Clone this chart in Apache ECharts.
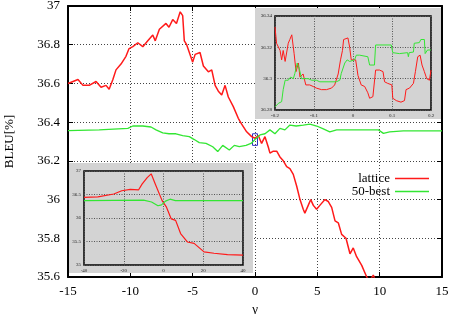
<!DOCTYPE html>
<html>
<head>
<meta charset="utf-8">
<script src="https://cdn.jsdelivr.net/npm/echarts@6/dist/echarts.min.js"></script>
<style>
  html, body { margin: 0; padding: 0; background: #fff; }
  #chart { width: 454px; height: 314px; }
</style>
</head>
<body>
<div id="chart"></div>
<script>
// main plot: gamma vs BLEU
const mainGammaTicks = [-15, -10, -5, 0, 5, 10, 15]
const mainBleuTicks = [35.6, 35.8, 36, 36.2, 36.4, 36.6, 36.8, 37]

const latticeGamma = [-15, -14.6, -14.2, -13.8, -13.3, -12.75, -12.35, -11.95, -11.7, -11.4, -11.15, -10.75,
  -10.35, -10.1, -9.8, -9.4, -9.0, -8.6, -8.2, -8.0, -7.67, -7.14, -6.9, -6.6, -6.3, -6.0, -5.8, -5.67,
  -5.48, -5.4, -5.0, -4.8, -4.68, -4.41, -4.14, -3.74, -3.47, -3.2, -2.94, -2.67, -2.4, -2.14, -1.74,
  -1.34, -1.07, -0.67, -0.27, 0, 0.27, 0.53, 0.8, 1.07, 1.2, 1.47, 1.74, 2.0, 2.27, 2.54, 2.8, 3.07,
  3.34, 3.61, 3.87, 4.0, 4.27, 4.47, 4.68, 4.94, 5.2, 5.61, 5.88, 6.15, 6.42, 6.68, 6.95, 7.3, 7.62,
  7.88, 8.15, 8.56, 8.96, 9.2, 9.49, 9.7, 10.0]
const latticeBleu = [36.60, 36.61, 36.62, 36.59, 36.59, 36.61, 36.58, 36.59, 36.57, 36.62, 36.67, 36.70,
  36.74, 36.78, 36.79, 36.81, 36.79, 36.82, 36.85, 36.82, 36.88, 36.91, 36.89, 36.93, 36.91, 36.97, 36.95, 36.82,
  36.80, 36.81, 36.71, 36.75, 36.76, 36.76, 36.69, 36.66, 36.67, 36.59, 36.56, 36.54, 36.59, 36.53, 36.48,
  36.42, 36.39, 36.35, 36.325, 36.317, 36.33, 36.29, 36.325, 36.27, 36.24, 36.25, 36.25, 36.22, 36.20, 36.17, 36.16, 36.13,
  36.07, 36.0, 35.95, 35.93, 35.97, 36.0, 35.97, 35.95, 35.97, 36.0, 35.99, 35.96, 35.89, 35.88, 35.82, 35.80, 35.72,
  35.75, 35.705, 35.66, 35.60, 35.58, 35.61, 35.57, 35.52]

const nbestGamma = [-15, -12.5, -10.2, -9.8, -9.0, -8.34, -7.94, -7.4, -6.9, -6.34, -5.8, -5.27, -4.87, -4.47,
  -3.93, -3.39, -2.99, -2.59, -2.06, -1.66, -1.26, -0.72, -0.32, 0, 0.4, 0.8, 1.2, 1.6, 2.0, 2.4, 2.8, 3.3,
  3.87, 4.4, 4.95, 5.48, 6.0, 6.55, 7.6, 8.7, 9.9, 10.3, 10.8, 11.9, 15]
const nbestBleu = [36.356, 36.36, 36.368, 36.38, 36.38, 36.375, 36.36, 36.345, 36.34, 36.34, 36.33, 36.325, 36.31, 36.294,
  36.29, 36.273, 36.248, 36.28, 36.256, 36.28, 36.273, 36.28, 36.29, 36.31, 36.334, 36.34, 36.36, 36.34, 36.368, 36.36, 36.385, 36.38,
  36.385, 36.39, 36.38, 36.365, 36.35, 36.36, 36.36, 36.36, 36.36, 36.342, 36.35, 36.355, 36.355]

// zoomed inset (top right)
const zoomGammaTicks = [-0.2, -0.1, 0, 0.1, 0.2]
const zoomBleuTicks = [36.28, 36.3, 36.32, 36.34]

const zoomLatticeGamma = [-0.2, -0.196, -0.187, -0.183, -0.179, -0.174, -0.166, -0.162, -0.157, -0.153, -0.151, -0.146,
  -0.140, -0.136, -0.128, -0.121, -0.111, -0.102, -0.094, -0.081, -0.068, -0.055, -0.047, -0.038, -0.032, -0.027,
  -0.024, -0.019, -0.013, -0.0085, -0.0045, 0, 0.0068, 0.0128, 0.021, 0.030, 0.038, 0.0426, 0.051, 0.058, 0.068,
  0.077, 0.081, 0.089, 0.0996, 0.102, 0.111, 0.123, 0.132, 0.136, 0.145, 0.149, 0.155, 0.160, 0.166, 0.172, 0.177,
  0.183, 0.189, 0.196, 0.2]
const zoomLatticeBleu = [36.333, 36.3226, 36.318, 36.312, 36.318, 36.311, 36.3226, 36.325, 36.328, 36.329, 36.316, 36.3045,
  36.31, 36.301, 36.303, 36.296, 36.296, 36.295, 36.294, 36.293, 36.293, 36.294, 36.296, 36.303, 36.312, 36.318,
  36.325, 36.326, 36.326, 36.320, 36.312, 36.311, 36.312, 36.302, 36.296, 36.295, 36.291, 36.2875, 36.2885, 36.3055, 36.3055,
  36.3045, 36.298, 36.297, 36.296, 36.2875, 36.286, 36.285, 36.286, 36.293, 36.294, 36.293, 36.297, 36.3045, 36.314, 36.315, 36.3087,
  36.3045, 36.300, 36.299, 36.3055]

const zoomNbestGamma = [-0.2, -0.191, -0.183, -0.179, -0.174, -0.170, -0.166, -0.160, -0.153, -0.149, -0.143, -0.138,
  -0.132, -0.128, -0.123, -0.115, -0.106, -0.094, -0.085, -0.064, -0.043, -0.034, -0.030, -0.021, -0.015, -0.0085,
  -0.004, 0.004, 0.0085, 0.017, 0.038, 0.0426, 0.055, 0.058, 0.098, 0.102, 0.119, 0.140, 0.142, 0.144, 0.155,
  0.157, 0.170, 0.174, 0.183, 0.185, 0.191, 0.2]
const zoomNbestBleu = [36.282, 36.2843, 36.2853, 36.293, 36.299, 36.300, 36.299, 36.301, 36.300, 36.3034, 36.31, 36.3066,
  36.300, 36.301, 36.300, 36.300, 36.299, 36.299, 36.298, 36.298, 36.298, 36.299, 36.3034, 36.31, 36.312, 36.311,
  36.31, 36.312, 36.315, 36.315, 36.314, 36.3087, 36.3087, 36.3215, 36.3215, 36.3166, 36.316, 36.3166, 36.314, 36.3166, 36.317,
  36.3226, 36.323, 36.325, 36.325, 36.316, 36.3183, 36.3183]

// wide inset (bottom left)
const wideGammaTicks = [-40, -20, 0, 20, 40]
const wideBleuTicks = [35, 35.5, 36, 36.5, 37]

const wideLatticeGamma = [-40, -33, -25, -21, -16.7, -12.5, -10.8, -8.2, -6.2, -4.1, -0.7, 1.5, 3.9, 6.1, 8.6, 12, 15.4,
  20.4, 25.4, 32.2, 40]
const wideLatticeBleu = [36.44, 36.45, 36.51, 36.58, 36.61, 36.6, 36.72, 36.86, 36.94, 36.72, 36.37, 36.23, 35.98, 35.95,
  35.67, 35.49, 35.46, 35.28, 35.25, 35.22, 35.21]

const wideNbestGamma = [-40, -10, -6, -2.8, -1, 1, 3.3, 6, 40]
const wideNbestBleu = [36.37, 36.38, 36.34, 36.26, 36.28, 36.36, 36.40, 36.37, 36.37]

const RED = '#ff1a1a'
const GREEN = '#33e633'
const GRAY = '#d3d3d3'
const FONT = "'Liberation Serif', 'DejaVu Serif', serif"

function pairs(xs, ys) {
  return xs.map((x, i) => [x, ys[i]])
}

function rangeOf(ticks) {
  return {
    min: ticks[0],
    max: ticks[ticks.length - 1],
    interval: Math.round((ticks[1] - ticks[0]) * 1e6) / 1e6
  }
}

// round off float noise in tick labels
const tidy = v => String(+v.toFixed(4))

function mainAxis(ticks, extra) {
  return Object.assign({
    type: 'value',
    gridIndex: 0,
    ...rangeOf(ticks),
    axisLine: { show: true, onZero: false, lineStyle: { color: '#000', width: 2 } },
    axisTick: { show: true, inside: true, length: 5, lineStyle: { color: '#000' } },
    axisLabel: { color: '#000', fontFamily: FONT, fontSize: 13, margin: 8, formatter: tidy },
    splitLine: { show: false }
  }, extra)
}

function insetAxis(grid, ticks, extra) {
  return Object.assign({
    type: 'value',
    gridIndex: grid,
    z: 3,
    ...rangeOf(ticks),
    axisLine: { show: false, onZero: false },
    axisTick: { show: false },
    axisLabel: { color: '#222', fontFamily: FONT, fontSize: 5, margin: 3, formatter: tidy },
    splitLine: { show: true, lineStyle: { color: '#555', type: [1, 1.5], width: 1 } }
  }, extra)
}

const chart = echarts.init(document.getElementById('chart'))

const option = {
  animation: false,
  grid: [
    { left: 68, right: 12, top: 6, bottom: 37, outerBoundsMode: 'none', containLabel: false },
    { left: 275, top: 16, width: 156, height: 94, show: true, z: 2, outerBoundsMode: 'none',
      backgroundColor: GRAY, borderColor: '#000', borderWidth: 1.5 },
    { left: 84, top: 171, width: 159, height: 94, show: true, z: 2, outerBoundsMode: 'none',
      backgroundColor: GRAY, borderColor: '#000', borderWidth: 1.5 }
  ],
  graphic: [
    { type: 'rect', z: 1, shape: { x: 255, y: 8, width: 186, height: 111 }, style: { fill: GRAY } },
    { type: 'rect', z: 1, shape: { x: 69, y: 163, width: 184, height: 110 }, style: { fill: GRAY } }
  ],
  xAxis: [
    mainAxis(mainGammaTicks, {
      position: 'bottom',
      name: 'γ', nameLocation: 'middle', nameGap: 25,
      nameTextStyle: { color: '#000', fontFamily: FONT, fontSize: 13 },
      splitLine: { show: true, lineStyle: { color: '#444', type: [1, 2], width: 1 } }
    }),
    mainAxis(mainGammaTicks, { position: 'top', axisLabel: { show: false } }),
    insetAxis(1, zoomGammaTicks, {}),
    insetAxis(2, wideGammaTicks, {})
  ],
  yAxis: [
    mainAxis(mainBleuTicks, {
      position: 'left',
      name: 'BLEU[%]', nameLocation: 'middle', nameGap: 52,
      nameTextStyle: { color: '#000', fontFamily: FONT, fontSize: 13 },
      splitLine: { show: true, lineStyle: { color: '#444', type: [1, 2], width: 1 } }
    }),
    mainAxis(mainBleuTicks, { position: 'right', axisLabel: { show: false } }),
    insetAxis(1, zoomBleuTicks, {}),
    insetAxis(2, wideBleuTicks, {})
  ],
  legend: {
    data: ['lattice', '50-best'],
    orient: 'vertical',
    right: 20,
    top: 167,
    align: 'right',
    icon: 'rect',
    itemWidth: 34,
    itemHeight: 1.5,
    itemGap: 0,
    textStyle: { color: '#000', fontFamily: FONT, fontSize: 13 }
  },
  series: [
    {
      name: 'lattice', type: 'line', xAxisIndex: 0, yAxisIndex: 0,
      data: pairs(latticeGamma, latticeBleu),
      color: RED, symbol: 'none', lineStyle: { width: 1.5 }
    },
    {
      name: '50-best', type: 'line', xAxisIndex: 0, yAxisIndex: 0,
      data: pairs(nbestGamma, nbestBleu),
      color: GREEN, symbol: 'none', lineStyle: { width: 1.3 },
      markArea: {
        silent: true,
        itemStyle: { color: 'rgba(0,0,0,0)', borderColor: '#3030c0', borderWidth: 1 },
        data: [[
          { coord: [zoomGammaTicks[0], zoomBleuTicks[zoomBleuTicks.length - 1]] },
          { coord: [zoomGammaTicks[zoomGammaTicks.length - 1], zoomBleuTicks[0]] }
        ]]
      }
    },
    {
      name: 'lattice', type: 'line', xAxisIndex: 2, yAxisIndex: 2, z: 4,
      data: pairs(zoomLatticeGamma, zoomLatticeBleu),
      color: RED, symbol: 'none', lineStyle: { width: 1 }
    },
    {
      name: '50-best', type: 'line', xAxisIndex: 2, yAxisIndex: 2, z: 4,
      data: pairs(zoomNbestGamma, zoomNbestBleu),
      color: GREEN, symbol: 'none', lineStyle: { width: 1 }
    },
    {
      name: 'lattice', type: 'line', xAxisIndex: 3, yAxisIndex: 3, z: 4,
      data: pairs(wideLatticeGamma, wideLatticeBleu),
      color: RED, symbol: 'none', lineStyle: { width: 1.2 }
    },
    {
      name: '50-best', type: 'line', xAxisIndex: 3, yAxisIndex: 3, z: 4,
      data: pairs(wideNbestGamma, wideNbestBleu),
      color: GREEN, symbol: 'none', lineStyle: { width: 1.2 }
    }
  ]
}

chart.setOption(option)
</script>
</body>
</html>
